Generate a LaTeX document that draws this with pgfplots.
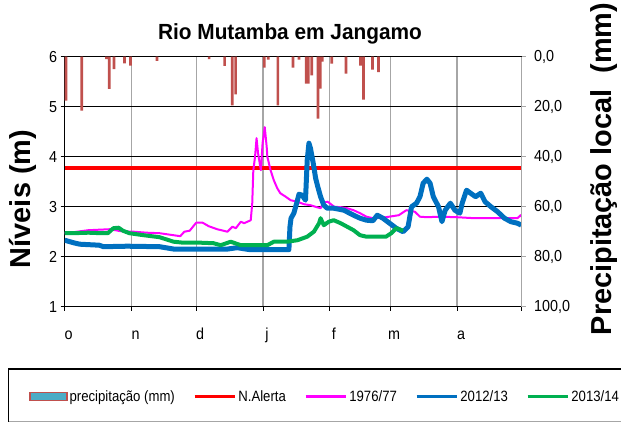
\documentclass[border=0pt]{standalone}
\usepackage{fontspec}
\setmainfont{Liberation Sans}
\newfontfamily\condfont[FakeStretch=0.9]{Liberation Sans}
\newfontfamily\legfont[FakeStretch=0.88]{Liberation Sans}
\newfontfamily\titfont[FakeStretch=0.95]{Liberation Sans}
\usepackage{pgfplots}
\pgfplotsset{compat=1.18}
\definecolor{barred}{HTML}{C0504D}
\definecolor{legblue}{HTML}{4BACC6}
\definecolor{lblue}{HTML}{0070C0}
\definecolor{lgreen}{HTML}{00B050}
\definecolor{lmagenta}{RGB}{255,0,255}
\definecolor{lred}{RGB}{255,0,0}
\definecolor{gridgray}{HTML}{A6A6A6}

\begin{document}
\begin{tikzpicture}
\path[use as bounding box] (-64.7bp,-116.3bp) rectangle (556.3bp,306.7bp);

% levels (left axis)
\begin{axis}[
  scale only axis, width=457bp, height=250bp,
  at={(0,0)}, anchor=south west,
  xmin=0, xmax=212, ymin=1, ymax=6,
  axis x line*=bottom, axis y line*=left,
  axis line style={black, line width=1.3pt, -},
  xtick={0,31,61,92,123,151,182,212},
  xticklabels={o,n,d,j,f,m,a,{}},
  ytick={1,2,3,4,5},
  extra y ticks={6},
  extra y tick style={major grid style={gridgray, line width=1.3pt}},
  xmajorgrids, ymajorgrids,
  x grid style={gridgray, line width=1.3pt},
  y grid style={black, line width=1.3pt},
  tick align=outside, major tick length=4bp,
  tick style={black, line width=1pt},
  tick label style={font=\condfont\fontsize{16}{16}\selectfont},
  xticklabel style={anchor=base, xshift=4bp, yshift=-29bp},
  /pgf/number format/assume math mode=true,
  legend columns=5,
  legend cell align=left,
  legend style={at={(0.57,-0.36)}, anchor=center, draw=none, fill=none,
    font=\legfont\fontsize{15}{15}\selectfont,
    /tikz/every even column/.append style={column sep=16bp}},
  legend image code/.code={\draw[#1, line width=3.5bp] (0bp,0bp) -- (40bp,0bp);},
]
\addlegendimage{legend image code/.code={\draw[fill=legblue, draw=barred, line width=1.2bp] (0bp,-4bp) rectangle (37bp,4bp);}}
\addlegendentry{precipitação (mm)}

\addplot[lred, line width=3.5bp] coordinates {(0,3.77) (212,3.77)};
\addlegendentry{N.Alerta}

\addplot[lmagenta, line width=2bp, line join=round] coordinates {
(0,2.47) (4,2.49) (11,2.53) (21,2.55) (26,2.51) (32,2.50) (38,2.48) (44,2.47)
(50.5,2.43) (53.6,2.41) (55.5,2.50) (58,2.52) (61,2.68) (64,2.68) (66.8,2.61)
(70.7,2.55) (75.5,2.50) (77.8,2.60) (79.4,2.57) (81.7,2.70) (83.2,2.67) (84.8,2.70)
(86.3,2.73) (87,3.07) (87.5,3.73) (88.3,4.00) (89,4.37) (89.7,4.07) (91,3.73)
(91.8,4.27) (92.8,4.59) (93.7,4.20) (94,4.00) (95.5,3.73) (97,3.53) (98.6,3.37)
(100,3.27) (102.5,3.20) (104.8,3.13) (107.9,3.10) (111,3.05) (114,3.03) (117,2.99)
(118.7,2.97) (120,3.08) (122,3.10) (125,3.00) (128,2.99) (131,2.97) (134,2.93)
(137,2.87) (140,2.80) (143,2.77) (149,2.79) (155,2.83) (158.5,2.93) (162.4,2.90)
(164.8,2.80) (168,2.79) (174,2.80) (182,2.79) (190,2.77) (199,2.77) (205,2.77)
(210,2.77) (211.5,2.83) (212,2.80)};
\addlegendentry{1976/77}

\addplot[lblue, line width=5bp, line join=round] coordinates {
(0,2.33) (4,2.28) (7,2.25) (16,2.23) (18,2.20) (29,2.21) (44,2.20) (51,2.15)
(63,2.15) (75,2.15) (80,2.18) (86,2.14) (95.5,2.14) (104,2.14) (104.5,2.60)
(105,2.77) (106.3,2.87) (107.6,3.07) (108.7,3.25) (110.2,3.23) (111.7,3.13)
(112.5,3.93) (113.3,4.27) (114,4.17) (115.3,3.87) (116.4,3.57) (117.4,3.40)
(118.7,3.20) (120.2,3.03) (121.8,2.97) (124.8,2.97) (129.5,2.93) (134,2.83)
(137,2.77) (140,2.73) (143,2.72) (145,2.83) (147.6,2.77) (150.7,2.67) (153.8,2.57)
(157,2.50) (159.3,2.60) (160.9,3.00) (163.2,3.07) (164.8,3.20) (166.3,3.47)
(168,3.55) (169.5,3.47) (171,3.20) (173.4,3.00) (175,2.70) (176.5,2.93)
(178.9,3.07) (181,2.93) (183.3,2.87) (184.4,3.07) (186.4,3.33) (188.3,3.27)
(190.6,3.20) (193,3.27) (195,3.10) (197.7,3.00) (200.8,2.90) (204,2.77)
(207,2.70) (210,2.67) (211.8,2.63)};
\addlegendentry{2012/13}

\addplot[lgreen, line width=4bp, line join=round] coordinates {
(0,2.47) (4,2.47) (11,2.48) (17,2.47) (20,2.47) (22.6,2.57) (25,2.58) (27,2.52)
(30,2.47) (36.6,2.43) (44,2.39) (50.5,2.30) (55,2.28) (63,2.28) (69,2.27)
(72.4,2.23) (77,2.30) (81.7,2.23) (87.8,2.23) (94,2.23) (97,2.30) (103.3,2.30)
(108,2.33) (112.5,2.40) (115.6,2.50) (118,2.67) (118.7,2.77) (120.2,2.63)
(122.5,2.70) (124.8,2.73) (128,2.67) (131,2.60) (134,2.53) (137,2.43) (140,2.40)
(143,2.40) (149,2.40) (151.5,2.47) (153.8,2.57) (157,2.52)};
\addlegendentry{2013/14}
\end{axis}

% precipitation (right axis, reversed)
\begin{axis}[
  scale only axis, width=457bp, height=250bp,
  at={(0,0)}, anchor=south west,
  xmin=0, xmax=212, ymin=0, ymax=100, y dir=reverse,
  axis x line=none, axis y line*=right,
  axis line style={gridgray, line width=1.3pt, -},
  ytick={0,20,...,100},
  tick align=outside, major tick length=4bp,
  tick style={gridgray, line width=1pt},
  tick label style={font=\condfont\fontsize{16}{16}\selectfont},
  yticklabel style={xshift=5bp, /pgf/number format/fixed, /pgf/number format/fixed zerofill,
    /pgf/number format/precision=1, /pgf/number format/use comma},
  /pgf/number format/assume math mode=true,
]
\addplot[ybar, bar width=1.25, fill=barred, draw=none] coordinates {
(0.6,17.6) (7.9,21.6) (19.4,1.0) (20.7,12.9) (22.9,5.0) (27.7,2.7) (30.5,3.6)
(42.8,1.7) (67,1.0) (74.2,3.7) (77.7,19.5) (79.3,15.1) (92.6,4.4) (94.4,1.2)
(98.9,19.5) (105.9,4.4) (108.7,1.2) (112,10.8) (113,10.8) (114.6,7.5)
(117.5,24.8) (118.6,12.8) (119.5,2.0) (123.9,2.8) (130.5,6.8) (137.2,3.6)
(138.6,17.2) (142.8,5.2) (145.6,6.2)};
\end{axis}

\node[anchor=base, font=\titfont\bfseries\fontsize{22}{22}\selectfont] at (225.3bp,266.7bp) {Rio Mutamba em Jangamo};
\node[rotate=90, font=\bfseries\fontsize{29}{29}\selectfont] at (-42.2bp,107.7bp) {Níveis (m)};
\node[rotate=90, font=\bfseries\fontsize{29}{29}\selectfont] at (539.3bp,137.7bp) {Precipitação local\ \ (mm)};

\draw[black, line width=1.3bp] (-55.9bp,-114.8bp) -- (-55.9bp,-62.3bp) -- (561bp,-62.3bp);
\draw[gridgray, line width=1bp] (-55.9bp,-114.8bp) -- (561bp,-114.8bp);
\end{tikzpicture}
\end{document}
